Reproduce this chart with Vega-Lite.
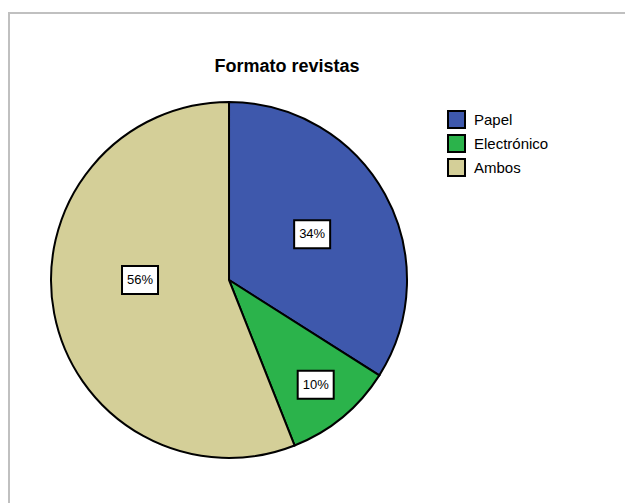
{
  "$schema": "https://vega.github.io/schema/vega-lite/v6.json",
  "width": 620,
  "height": 495,
  "autosize": {"type": "none"},
  "padding": {"left": 9, "top": 13, "right": 0, "bottom": 0},
  "background": "white",
  "config": {
    "view": {"stroke": "#c0c0c0", "strokeWidth": 2},
    "font": "Liberation Sans"
  },
  "title": {
    "text": "Formato revistas",
    "font": "Liberation Sans",
    "fontSize": 18,
    "fontWeight": "bold",
    "color": "black",
    "anchor": "middle",
    "frame": "group",
    "dx": -32,
    "offset": -63
  },
  "data": {
    "values": [
      {"formato": "Papel", "pct": 34},
      {"formato": "Electrónico", "pct": 10},
      {"formato": "Ambos", "pct": 56}
    ]
  },
  "transform": [
    {"window": [{"op": "sum", "field": "pct", "as": "fin"}], "frame": [null, 0]},
    {"calculate": "datum.fin - datum.pct", "as": "inicio"},
    {"calculate": "datum.pct / 100 * PI", "as": "half"},
    {"calculate": "datum.half > PI / 2 ? datum.fin / 100 * 2 * PI - PI / 2 : (datum.fin - datum.pct / 2) / 100 * 2 * PI", "as": "ang"},
    {"calculate": "1 / (1 + sin(min(datum.half, PI / 2)))", "as": "rf"},
    {"calculate": "datum.rf * sin(datum.ang)", "as": "lx"},
    {"calculate": "datum.rf * cos(datum.ang)", "as": "ly"},
    {"calculate": "datum.pct + '%'", "as": "etiqueta"}
  ],
  "layer": [
    {
      "mark": {"type": "arc", "outerRadius": 178, "stroke": "black", "strokeWidth": 2},
      "encoding": {
        "theta": {"field": "inicio", "type": "quantitative", "scale": {"domain": [0, 100]}},
        "theta2": {"field": "fin"},
        "x": {"datum": 0, "type": "quantitative", "scale": {"domain": [-1.236, 2.247], "nice": false, "zero": false}, "axis": null},
        "y": {"datum": 0, "type": "quantitative", "scale": {"domain": [-1.281, 1.5], "nice": false, "zero": false}, "axis": null},
        "color": {
          "field": "formato",
          "type": "nominal",
          "sort": ["Papel", "Electrónico", "Ambos"],
          "scale": {"domain": ["Papel", "Electrónico", "Ambos"], "range": ["#3e58ac", "#2bb34b", "#d4cf98"]},
          "legend": {
            "title": null,
            "orient": "none",
            "legendX": 438,
            "legendY": 97,
            "symbolType": "square",
            "symbolSize": 289,
            "symbolStrokeColor": "black",
            "symbolStrokeWidth": 2,
            "symbolOpacity": 1,
            "labelFont": "Liberation Sans",
            "labelFontSize": 15,
            "labelColor": "black",
            "rowPadding": -1,
            "labelOffset": 8
          }
        }
      }
    },
    {
      "mark": {"type": "point", "shape": "M-1,-0.778L1,-0.778L1,0.778L-1,0.778Z", "filled": true, "fill": "white", "stroke": "black", "strokeWidth": 2, "opacity": 1, "size": 1296},
      "encoding": {
        "x": {"field": "lx", "type": "quantitative"},
        "y": {"field": "ly", "type": "quantitative"}
      }
    },
    {
      "mark": {"type": "text", "font": "Liberation Sans", "fontSize": 13, "color": "black", "align": "center", "baseline": "middle"},
      "encoding": {
        "x": {"field": "lx", "type": "quantitative"},
        "y": {"field": "ly", "type": "quantitative"},
        "text": {"field": "etiqueta", "type": "nominal"}
      }
    }
  ]
}
